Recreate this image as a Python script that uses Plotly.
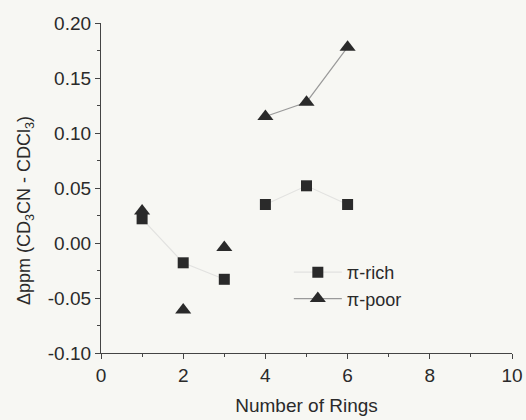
import plotly.graph_objects as go

# Number of rings and chemical-shift differences for both series
rings = [1, 2, 3, 4, 5, 6]
pi_rich = [0.022, -0.018, -0.033, 0.035, 0.052, 0.035]
pi_poor = [0.029, -0.061, -0.004, 0.115, 0.128, 0.178]

x_ticks = [0, 2, 4, 6, 8, 10]
y_ticks = [-0.10, -0.05, 0.00, 0.05, 0.10, 0.15, 0.20]

font_family = "Liberation Sans, Arial, sans-serif"
ink = "#2a2a2a"

fig = go.Figure()

# π-rich: two runs (rings 1-3 and 4-6) joined by a faint line
fig.add_trace(go.Scatter(
    x=rings[:3] + [None] + rings[3:], y=pi_rich[:3] + [None] + pi_rich[3:],
    name="π-rich", mode="lines+markers",
    line=dict(color="#e2e2e0", width=1.2),
    marker=dict(symbol="square", size=11, color=ink),
    connectgaps=False,
))
# π-poor: points for rings 1-3, line only through rings 4-6
fig.add_trace(go.Scatter(
    x=rings[:3], y=pi_poor[:3], mode="markers", showlegend=False,
    marker=dict(symbol="triangle-up", size=14, color=ink),
))
fig.add_trace(go.Scatter(
    x=rings[3:], y=pi_poor[3:], name="π-poor", mode="lines+markers",
    line=dict(color="#9a9a9a", width=1.2),
    marker=dict(symbol="triangle-up", size=14, color=ink),
))

fig.update_layout(
    width=526, height=420,
    margin=dict(l=101, r=14, t=23, b=67, autoexpand=False),
    paper_bgcolor="#f7f7f3", plot_bgcolor="#f7f7f3",
    font=dict(family=font_family, color=ink, size=18),
    showlegend=True,
    legend=dict(
        x=0.457, y=0.30, xanchor="left", yanchor="top",
        bgcolor="rgba(0,0,0,0)", font=dict(size=18, color=ink),
        itemwidth=48, tracegroupgap=0,
    ),
    xaxis=dict(
        range=[0, 10], tickvals=x_ticks, ticktext=[str(v) for v in x_ticks],
        showgrid=False, zeroline=False, automargin=False,
        showline=True, linecolor="#444444", linewidth=1.2,
        ticks="outside", ticklen=5, tickcolor="#444444",
        minor=dict(dtick=1, ticks="outside", ticklen=3, tickcolor="#444444"),
        tickfont=dict(size=19),
        title=dict(text="Number of Rings", font=dict(size=19), standoff=13),
    ),
    yaxis=dict(
        range=[-0.10, 0.20], tickvals=y_ticks,
        ticktext=[f"{v:.2f}" for v in y_ticks],
        showgrid=False, zeroline=False, automargin=False,
        showline=True, linecolor="#444444", linewidth=1.2,
        ticks="outside", ticklen=5, tickcolor="#444444",
        minor=dict(dtick=0.025, ticks="outside", ticklen=3, tickcolor="#444444"),
        tickfont=dict(size=19),
    ),
)

fig.add_annotation(
    text="Δppm (CD<sub>3</sub>CN - CDCl<sub>3</sub>)",
    xref="paper", yref="paper", x=-0.185, y=0.433,
    xanchor="center", yanchor="middle",
    textangle=-90, showarrow=False,
    font=dict(size=18, color=ink, family=font_family),
)

fig.write_html("out.html")
